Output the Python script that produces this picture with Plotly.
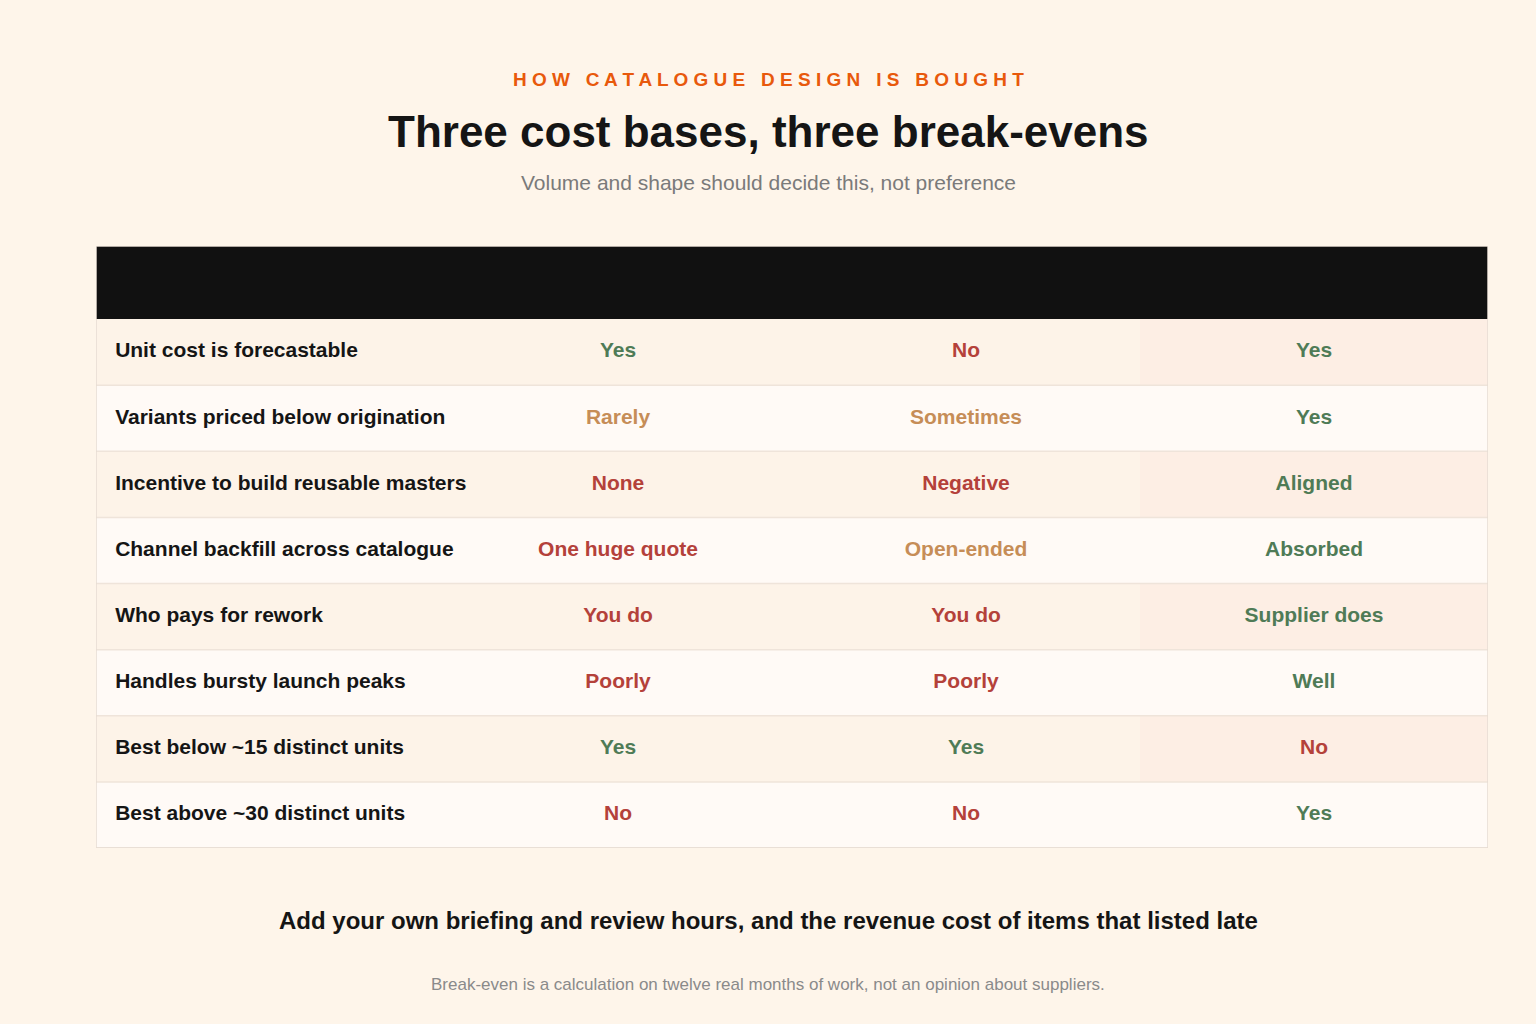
import plotly.graph_objects as go

# TABLE DATA
columns = ["Per asset", "Per hour", "Per capacity"]
criteria = ["Unit cost is forecastable", "Variants priced below origination",
            "Incentive to build reusable masters", "Channel backfill across catalogue",
            "Who pays for rework", "Handles bursty launch peaks",
            "Best below ~15 distinct units", "Best above ~30 distinct units"]
per_asset = ["Yes", "Rarely", "None", "One huge quote", "You do", "Poorly", "Yes", "No"]
per_hour = ["No", "Sometimes", "Negative", "Open-ended", "You do", "Poorly", "Yes", "No"]
per_capacity = ["Yes", "Yes", "Aligned", "Absorbed", "Supplier does", "Well", "No", "Yes"]

# verdict -> colour
good = ["Yes", "Aligned", "Absorbed", "Supplier does", "Well"]
mid = ["Rarely", "Sometimes", "Open-ended"]


def tone(v):
    if v in good:
        return "#4f7b56"
    if v in mid:
        return "#c68d57"
    return "#b4413a"


FONT = "Liberation Sans"
n = len(criteria)
head = -73 / 66  # header is a bit taller than a row
fig = go.Figure()

# row bands, header and grid lines
for i in range(n):
    odd = i % 2 == 0
    fig.add_shape(type="rect", x0=0, x1=3, y0=i, y1=i + 1, layer="below", line_width=0,
                  fillcolor="#fdf3e8" if odd else "#fffaf6")
    fig.add_shape(type="rect", x0=3, x1=4, y0=i, y1=i + 1, layer="below", line_width=0,
                  fillcolor="#fdeee4" if odd else "#fffaf6")
    fig.add_shape(type="line", x0=0, x1=4, y0=i + 1, y1=i + 1, line=dict(color="#efe4da", width=1.5))
fig.add_shape(type="rect", x0=0, x1=4, y0=head, y1=0, fillcolor="#111111", line_width=0)
fig.add_shape(type="rect", x0=0, x1=4, y0=head, y1=n, line=dict(color="#e6dcd2", width=1.5))

# header labels
fig.add_trace(go.Scatter(x=[1.5, 2.5, 3.5], y=[head / 2] * 3, mode="text",
                         text=["<b>%s</b>" % c for c in columns],
                         textfont=dict(color="white", size=19, family=FONT)))
# criteria
fig.add_trace(go.Scatter(x=[0.055] * n, y=[i + 0.5 for i in range(n)], mode="text",
                         text=["<b>%s</b>" % c for c in criteria], textposition="middle right",
                         textfont=dict(color="#151515", size=21, family=FONT)))
# verdicts
for k, vals in enumerate([per_asset, per_hour, per_capacity]):
    fig.add_trace(go.Scatter(x=[k + 1.5] * n, y=[i + 0.5 for i in range(n)], mode="text",
                             text=["<b>%s</b>" % v for v in vals],
                             textfont=dict(color=[tone(v) for v in vals], size=21, family=FONT)))


def note(text, y, size, color, bold=False):
    fig.add_annotation(text="<b>%s</b>" % text if bold else text, x=0.5, y=1 - y / 1024,
                       xref="paper", yref="paper", showarrow=False, yanchor="middle",
                       font=dict(size=size, color=color, family=FONT))


note("H O W   C A T A L O G U E   D E S I G N   I S   B O U G H T", 79, 19, "#e8590c", True)
note("Three cost bases, three break-evens", 131, 44, "#151515", True)
note("Volume and shape should decide this, not preference", 182, 21, "#7a7a7a")
note("Add your own briefing and review hours, and the revenue cost of items that listed late", 920, 24, "#151515", True)
note("Break-even is a calculation on twelve real months of work, not an opinion about suppliers.", 984, 17, "#8a8a8a")

fig.update_layout(width=1536, height=1024, margin=dict(l=0, r=0, t=0, b=0), showlegend=False,
                  paper_bgcolor="#fef5ea", plot_bgcolor="#fef5ea",
                  xaxis=dict(domain=[96 / 1536, 1488 / 1536], range=[0, 4], visible=False, fixedrange=True),
                  yaxis=dict(domain=[1 - 848 / 1024, 1 - 246 / 1024], range=[n, head], visible=False, fixedrange=True))
fig.write_html("out.html", config=dict(displayModeBar=False),
               post_script="document.body.style.margin='0';document.body.style.background='#fef5ea';")
